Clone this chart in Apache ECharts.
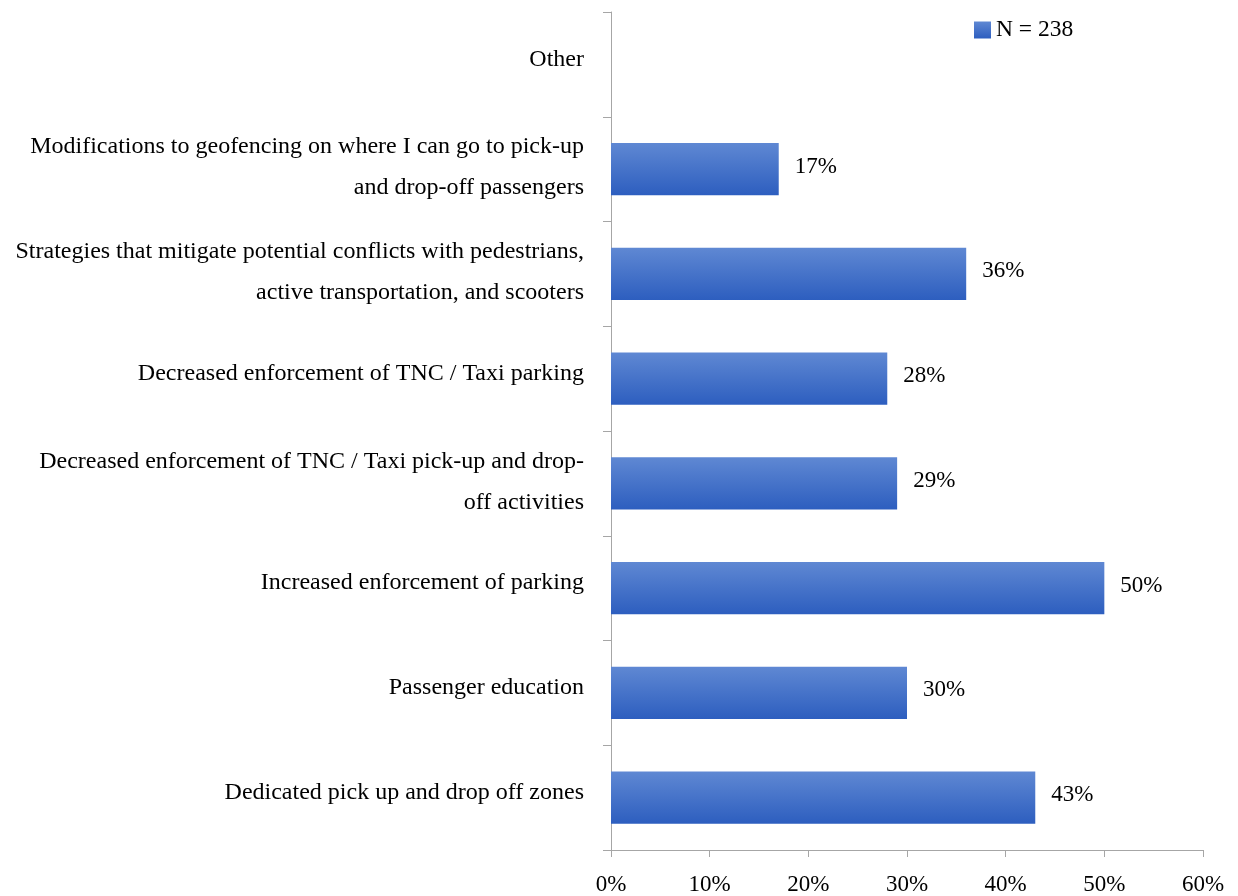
<!DOCTYPE html>
<html>
<head>
<meta charset="utf-8">
<script src="https://cdn.jsdelivr.net/npm/echarts@6/dist/echarts.min.js"></script>
<style>
  html, body { margin: 0; padding: 0; background: #ffffff; }
  #chart { width: 1238px; height: 896px; }
</style>
</head>
<body>
<div id="chart"></div>
<script>
// Measures listed top to bottom
const categories = [
  'Other',
  'Modifications to geofencing on where I can go to pick-up\nand drop-off passengers',
  'Strategies that mitigate potential conflicts with pedestrians,\nactive transportation, and scooters',
  'Decreased enforcement of TNC / Taxi parking',
  'Decreased enforcement of TNC / Taxi pick-up and drop-\noff activities',
  'Increased enforcement of parking',
  'Passenger education',
  'Dedicated pick up and drop off zones'
];
// Share of respondents (%); "Other" has no bar
const shares = [null, 17, 36, 28, 29, 50, 30, 43];
const seriesName = 'N = 238';
const xTicks = [0, 10, 20, 30, 40, 50, 60];

const FONT = '"Liberation Serif", "DejaVu Serif", serif';
const axisGray = '#a6a6a6';

const chart = echarts.init(document.getElementById('chart'), null, { renderer: 'canvas' });

const barFill = new echarts.graphic.LinearGradient(0, 0, 0, 1, [
  { offset: 0, color: '#5f88d3' },
  { offset: 1, color: '#2d5ebf' }
]);

// wrap each line in a rich token; the bottom pad lifts the text a little inside its line box
function richLines(text) {
  const lines = text.split('\n');
  const tag = lines.length > 1 ? 'm' : 's';
  return lines.map(s => '{' + tag + '|' + s + '}').join('\n');
}

const catText = { fontFamily: FONT, fontSize: 24, lineHeight: 41, color: '#000000', align: 'right' };

chart.setOption({
  animation: false,
  backgroundColor: '#ffffff',
  grid: { left: 611, right: 35, top: 12, bottom: 46, containLabel: false },
  legend: {
    data: [seriesName],
    left: 969,
    top: 13,
    icon: 'rect',
    itemWidth: 17,
    itemHeight: 17,
    itemGap: 9,
    textStyle: { fontFamily: FONT, fontSize: 23.5, color: '#000000' }
  },
  xAxis: {
    type: 'value',
    min: xTicks[0],
    max: xTicks[xTicks.length - 1],
    interval: 10,
    axisLine: { show: true, lineStyle: { color: axisGray, width: 1 } },
    axisTick: { show: true, length: 7, lineStyle: { color: axisGray } },
    splitLine: { show: false },
    axisLabel: {
      margin: 23,
      fontFamily: FONT,
      fontSize: 23,
      color: '#000000',
      formatter: v => v + '%'
    }
  },
  yAxis: {
    type: 'category',
    data: categories,
    inverse: true,
    axisLine: { show: true, lineStyle: { color: axisGray, width: 1 } },
    axisTick: { show: true, length: 8, alignWithLabel: false, lineStyle: { color: axisGray } },
    axisLabel: {
      margin: 27,
      color: '#000000',
      align: 'right',
      formatter: richLines,
      rich: {
        s: Object.assign({}, catText, { padding: [0, 0, 10, 0] }),
        m: Object.assign({}, catText, { padding: [0, 0, 3, 0] })
      }
    }
  },
  series: [{
    name: seriesName,
    type: 'bar',
    data: shares,
    barWidth: '50%',
    itemStyle: { color: barFill },
    label: {
      show: true,
      position: 'right',
      distance: 16,
      formatter: p => (p.value == null ? '' : '{v|' + p.value + '%}'),
      rich: {
        v: { fontFamily: FONT, fontSize: 23, color: '#000000', padding: [0, 0, 5, 0] }
      }
    }
  }]
});
</script>
</body>
</html>
